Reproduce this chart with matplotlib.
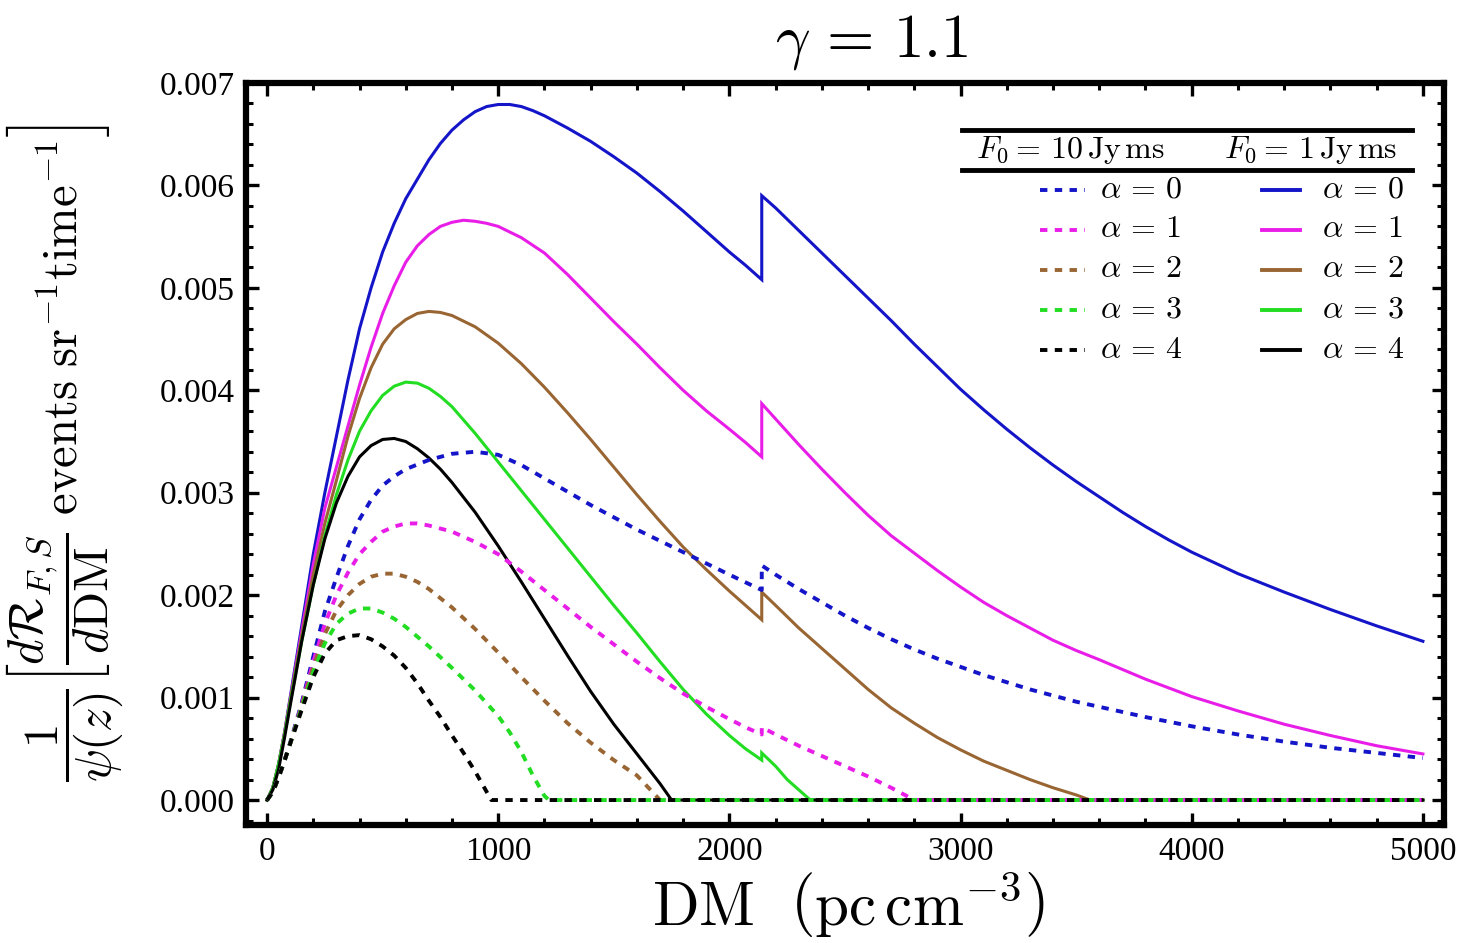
import numpy as np
import matplotlib
matplotlib.use("Agg")
import matplotlib.pyplot as plt
from matplotlib.ticker import MultipleLocator, FormatStrFormatter

plt.rcParams['mathtext.fontset'] = 'cm'
plt.rcParams['font.family'] = ['Liberation Serif', 'DejaVu Serif']

# values, in units of 1e-3
# the jump at DM = 2140 appears twice (value before / after)

# --- F0 = 1 Jy ms (solid)
dm_s0 = [0, 25, 50, 75, 100, 150, 200, 250, 300, 350, 400, 450, 500, 550, 600, 650, 700, 750, 800, 850, 900, 950,
         1000, 1050, 1100, 1150, 1200, 1300, 1400, 1500, 1600, 1700, 1800, 1900, 2000, 2070, 2140,
         2140, 2200, 2300, 2400, 2500, 2600, 2700, 2800, 2900, 3000, 3100, 3200, 3300, 3400, 3500, 3600,
         3700, 3800, 3900, 4000, 4200, 4400, 4600, 4800, 5000]
val_s0 = [0, 0.12, 0.35, 0.65, 1.0, 1.7, 2.4, 3.0, 3.55, 4.1, 4.6, 5.0, 5.35, 5.63, 5.87, 6.06, 6.25, 6.41, 6.54, 6.64,
          6.72, 6.77, 6.79, 6.79, 6.77, 6.73, 6.68, 6.56, 6.43, 6.28, 6.12, 5.94, 5.75, 5.55, 5.35, 5.22, 5.08,
          5.90, 5.78, 5.56, 5.34, 5.12, 4.90, 4.68, 4.45, 4.23, 4.01, 3.81, 3.62, 3.44, 3.27, 3.11, 2.96,
          2.81, 2.67, 2.54, 2.42, 2.21, 2.03, 1.86, 1.70, 1.55]

dm_s1 = [0, 25, 50, 75, 100, 150, 200, 250, 300, 350, 400, 450, 500, 550, 600, 650, 700, 750, 800, 850, 900, 950,
         1000, 1100, 1200, 1300, 1400, 1500, 1600, 1700, 1800, 1900, 2000, 2070, 2140,
         2140, 2200, 2300, 2400, 2500, 2600, 2700, 2800, 2900, 3000, 3100, 3200, 3300, 3400, 3500, 3600,
         3800, 4000, 4200, 4400, 4600, 4800, 5000]
val_s1 = [0, 0.12, 0.35, 0.65, 0.98, 1.65, 2.3, 2.85, 3.25, 3.65, 4.05, 4.42, 4.75, 5.02, 5.25, 5.41, 5.52, 5.6,
          5.64, 5.66, 5.65, 5.63, 5.6, 5.49, 5.34, 5.13, 4.9, 4.67, 4.45, 4.22, 4.0, 3.8, 3.62, 3.49, 3.35,
          3.87, 3.72, 3.47, 3.23, 3.0, 2.78, 2.58, 2.41, 2.24, 2.08, 1.93, 1.80, 1.68, 1.56, 1.46, 1.37,
          1.18, 1.01, 0.87, 0.74, 0.63, 0.53, 0.45]

dm_s2 = [0, 25, 50, 75, 100, 150, 200, 250, 300, 350, 400, 450, 500, 550, 600, 650, 700, 750, 800, 900,
         1000, 1100, 1200, 1300, 1400, 1500, 1600, 1700, 1800, 1900, 2000, 2070, 2140,
         2140, 2200, 2300, 2400, 2500, 2600, 2700, 2800, 2900, 3000, 3100, 3200, 3300, 3400, 3500, 3560, 5000]
val_s2 = [0, 0.12, 0.35, 0.64, 0.97, 1.6, 2.2, 2.7, 3.12, 3.55, 3.92, 4.22, 4.45, 4.6, 4.69, 4.75, 4.77, 4.76, 4.73,
          4.62, 4.46, 4.26, 4.03, 3.78, 3.52, 3.25, 2.98, 2.72, 2.47, 2.25, 2.04, 1.9, 1.76,
          2.03, 1.9, 1.68, 1.48, 1.28, 1.08, 0.9, 0.75, 0.61, 0.49, 0.38, 0.29, 0.2, 0.12, 0.05, 0, 0]

dm_s3 = [0, 25, 50, 75, 100, 150, 200, 250, 300, 350, 400, 450, 500, 550, 600, 650, 700, 750, 800, 900,
         1000, 1100, 1200, 1300, 1400, 1500, 1600, 1700, 1800, 1900, 2000, 2070, 2140,
         2140, 2200, 2250, 2300, 2350, 5000]
val_s3 = [0, 0.12, 0.35, 0.63, 0.95, 1.55, 2.1, 2.58, 2.98, 3.32, 3.6, 3.8, 3.95, 4.04, 4.08, 4.07, 4.02, 3.94, 3.84,
          3.58, 3.3, 3.02, 2.74, 2.46, 2.18, 1.9, 1.63, 1.35, 1.08, 0.84, 0.63, 0.5, 0.39,
          0.46, 0.33, 0.2, 0.1, 0, 0]

dm_s4 = [0, 25, 50, 75, 100, 150, 200, 250, 300, 350, 400, 450, 500, 550, 600, 650, 700, 750, 800, 900,
         1000, 1100, 1200, 1300, 1400, 1500, 1600, 1700, 1750, 5000]
val_s4 = [0, 0.1, 0.3, 0.6, 0.92, 1.55, 2.1, 2.55, 2.9, 3.16, 3.35, 3.46, 3.52, 3.53, 3.5, 3.43, 3.34, 3.23, 3.1,
          2.81, 2.48, 2.13, 1.77, 1.41, 1.06, 0.74, 0.45, 0.16, 0, 0]

# --- F0 = 10 Jy ms (dashed)
dm_d0 = [0, 25, 50, 75, 100, 150, 200, 250, 300, 350, 400, 450, 500, 550, 600, 700, 800, 900,
         1000, 1100, 1200, 1300, 1400, 1500, 1600, 1700, 1800, 1900, 2000, 2140,
         2140, 2200, 2300, 2400, 2500, 2600, 2700, 2800, 2900, 3000, 3100, 3200, 3300, 3400, 3500, 3600,
         3800, 4000, 4200, 4400, 4600, 4800, 5000]
val_d0 = [0, 0.08, 0.22, 0.38, 0.56, 0.95, 1.4, 1.84, 2.17, 2.48, 2.74, 2.93, 3.07, 3.16, 3.23, 3.32, 3.38, 3.4,
          3.37, 3.27, 3.14, 3.01, 2.88, 2.76, 2.64, 2.53, 2.42, 2.31, 2.2, 2.05,
          2.29, 2.2, 2.06, 1.93, 1.8, 1.68, 1.57, 1.47, 1.38, 1.30, 1.22, 1.15, 1.08, 1.02, 0.96, 0.91,
          0.81, 0.72, 0.64, 0.57, 0.51, 0.46, 0.41]

dm_d1 = [0, 25, 50, 75, 100, 150, 200, 250, 300, 350, 400, 450, 500, 550, 600, 650, 700, 800, 900,
         1000, 1100, 1200, 1300, 1400, 1500, 1600, 1700, 1800, 1900, 2000, 2070, 2140,
         2140, 2200, 2300, 2400, 2500, 2600, 2700, 2800, 5000]
val_d1 = [0, 0.08, 0.22, 0.38, 0.55, 0.93, 1.35, 1.72, 2.0, 2.22, 2.4, 2.52, 2.62, 2.67, 2.7, 2.7, 2.68, 2.62, 2.52,
          2.4, 2.23, 2.05, 1.87, 1.69, 1.52, 1.35, 1.19, 1.04, 0.91, 0.79, 0.71, 0.64,
          0.71, 0.64, 0.53, 0.43, 0.33, 0.23, 0.12, 0, 0]

dm_d2 = [0, 25, 50, 75, 100, 150, 200, 250, 300, 350, 400, 450, 500, 550, 600, 650, 700, 800, 900,
         1000, 1100, 1200, 1300, 1400, 1500, 1600, 1650, 1700, 5000]
val_d2 = [0, 0.08, 0.22, 0.38, 0.55, 0.92, 1.3, 1.62, 1.85, 2.0, 2.11, 2.18, 2.21, 2.21, 2.18, 2.13, 2.06, 1.88, 1.67,
          1.44, 1.2, 0.97, 0.75, 0.56, 0.39, 0.24, 0.12, 0, 0]

dm_d3 = [0, 25, 50, 75, 100, 150, 200, 250, 300, 350, 400, 450, 500, 550, 600, 700, 800, 900,
         1000, 1050, 1100, 1150, 1200, 1220, 5000]
val_d3 = [0, 0.08, 0.22, 0.38, 0.55, 0.9, 1.25, 1.53, 1.72, 1.82, 1.87, 1.87, 1.83, 1.77, 1.69, 1.5, 1.29, 1.07,
          0.82, 0.66, 0.47, 0.24, 0.04, 0, 0]

dm_d4 = [0, 25, 50, 75, 100, 150, 200, 250, 300, 350, 400, 450, 500, 550, 600, 650, 700, 750, 800, 850, 900,
         950, 970, 5000]
val_d4 = [0, 0.08, 0.22, 0.38, 0.55, 0.88, 1.2, 1.43, 1.56, 1.6, 1.61, 1.57, 1.5, 1.41, 1.29, 1.14, 0.97, 0.81, 0.63,
          0.46, 0.28, 0.08, 0, 0]

alphas = [0, 1, 2, 3, 4]
colors = ['#1414c8', '#e81ee8', '#996633', '#22dd22', 'black']
solid = [(dm_s0, val_s0), (dm_s1, val_s1), (dm_s2, val_s2), (dm_s3, val_s3), (dm_s4, val_s4)]
dashed = [(dm_d0, val_d0), (dm_d1, val_d1), (dm_d2, val_d2), (dm_d3, val_d3), (dm_d4, val_d4)]

fig = plt.figure(figsize=(14.6, 9.43), dpi=100)
ax = fig.add_axes([0.1685, 0.1251, 0.8205, 0.7869])

for (x, y), c in zip(solid, colors):
    ax.plot(x, np.array(y) * 1e-3, color=c, lw=2.2, solid_joinstyle='miter')
for (x, y), c in zip(dashed, colors):
    ax.plot(x, np.array(y) * 1e-3, color=c, lw=2.8, linestyle=(0, (1.9, 1.9)))

ax.set_xlim(-91, 5091)
ax.set_ylim(-0.000244, 0.007)
ax.xaxis.set_major_locator(MultipleLocator(1000))
ax.xaxis.set_minor_locator(MultipleLocator(200))
ax.yaxis.set_major_locator(MultipleLocator(0.001))
ax.yaxis.set_minor_locator(MultipleLocator(0.0002))
ax.yaxis.set_major_formatter(FormatStrFormatter('%.3f'))
ax.tick_params(which='both', direction='in', top=True, right=True, labelsize=24)
ax.tick_params(which='major', length=9, width=2.4, pad=8)
ax.tick_params(which='minor', length=5, width=2.2)
for s in ax.spines.values():
    s.set_linewidth(4.5)

# title and axis labels
fig.text(0.597, 0.955, r'$\gamma\,=\,1.1$', fontsize=44, ha='center', va='center')
fig.text(0.581, 0.04, r'$\mathrm{DM}\ \ \left(\mathrm{pc\,cm^{-3}}\right)$', fontsize=44, ha='center', va='center')
fig.text(0.045, 0.52,
         r'$\dfrac{1}{\psi(z)}\left[\dfrac{d\mathcal{R}_{F,S}}{d\mathrm{DM}}\ \mathrm{events\ sr^{-1}time^{-1}}\right]$',
         fontsize=35, rotation=90, ha='center', va='center')

# legend drawn as a small table
tr = ax.transAxes
ax.plot([0.598, 0.973], [0.937, 0.937], color='black', lw=3.5, transform=tr, clip_on=False)
ax.plot([0.598, 0.973], [0.883, 0.883], color='black', lw=3.5, transform=tr, clip_on=False)
ax.text(0.688, 0.910, r'$F_0 =\,10\,\mathrm{Jy\,ms}$', fontsize=23, ha='center', va='center', transform=tr)
ax.text(0.889, 0.910, r'$F_0 =\,1\,\mathrm{Jy\,ms}$', fontsize=23, ha='center', va='center', transform=tr)
rows_y = [0.856, 0.802, 0.748, 0.694, 0.640]
for a, c, yy in zip(alphas, colors, rows_y):
    ax.plot([0.663, 0.700], [yy, yy], color=c, lw=2.8, linestyle=(0, (1.9, 1.9)), transform=tr)
    ax.text(0.713, yy, r'$\alpha\,=\,%d$' % a, fontsize=23, ha='left', va='center', transform=tr)
    ax.plot([0.848, 0.880], [yy, yy], color=c, lw=2.8, transform=tr)
    ax.text(0.898, yy, r'$\alpha\,=\,%d$' % a, fontsize=23, ha='left', va='center', transform=tr)

fig.savefig('out.png', dpi=100)
